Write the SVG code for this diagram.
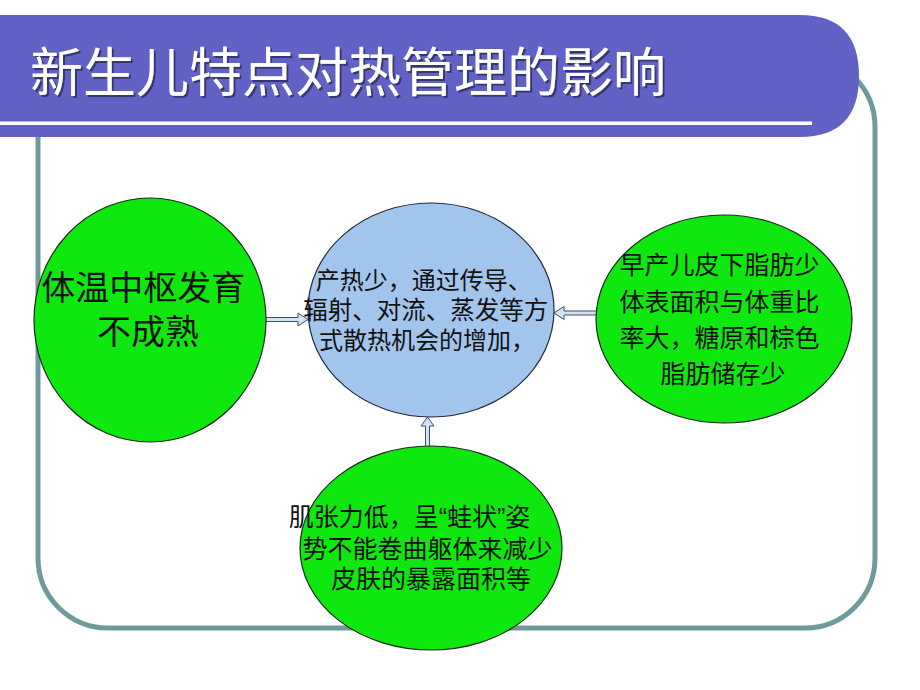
<svg xmlns="http://www.w3.org/2000/svg" width="920" height="690" viewBox="0 0 920 690">
  <defs>
    <filter id="shadow" x="-5%" y="-20%" width="110%" height="140%">
      <feDropShadow dx="2" dy="2" stdDeviation="0.6" flood-color="#2a2a5a" flood-opacity="0.8"/>
    </filter>
    <style>
      .frame { fill: none; stroke: #6e9a9c; stroke-width: 5; }
      .green { fill: #0ee80e; stroke: #1a2a1a; stroke-width: 1.2; }
      .blue { fill: #a2c5ec; stroke: #1e2a3e; stroke-width: 1.2; }
      .txt { font-family: "Liberation Sans", "Noto Sans CJK SC", sans-serif; fill: #111; text-anchor: middle; }
      .title { font-family: "Liberation Sans", "Noto Sans CJK SC", sans-serif; fill: #ffffff; font-size: 53px; }
      .arrow { fill: #d6e1ef; stroke: #3d4f75; stroke-width: 1; stroke-linejoin: miter; }
    </style>
  </defs>
  <rect width="920" height="690" fill="#ffffff"/>

  <!-- frame -->
  <rect class="frame" x="38" y="57" width="837" height="571" rx="70" ry="70"/>

  <!-- title bar -->
  <g id="title-bar">
    <path d="M0,15 H800 Q859,15 859,76 Q859,137 800,137 H0 Z" fill="#6262c6"/>
    <rect x="0" y="121.5" width="812" height="3.5" fill="#ffffff"/>
    <text class="title" x="30" y="92" filter="url(#shadow)">新生儿特点对热管理的影响</text>
  </g>

  <!-- connectors -->
  <g id="connectors">
    <path class="arrow" d="M265,317.5 H298 V313 L308,319.5 L298,326 V321.5 H265 Z"/>
    <path class="arrow" d="M597,311 H564 V306.5 L554,313 L564,319.5 V315 H597 Z"/>
    <path class="arrow" d="M425.5,447 V426 H421 L427.5,417 L434,426 H429.5 V447 Z"/>
  </g>

  <!-- nodes -->
  <g id="node-center">
    <ellipse class="blue" cx="431" cy="310" rx="123" ry="107"/>
    <text class="txt" font-size="24">
      <tspan x="427" y="289">产热少，通过传导、</tspan>
      <tspan x="429" y="319" font-size="24.5">辐射、对流、蒸发等方</tspan>
      <tspan x="427" y="349">式散热机会的增加，</tspan>
    </text>
  </g>

  <g id="node-left">
    <ellipse class="green" cx="150" cy="320" rx="116" ry="122"/>
    <text class="txt" font-size="34">
      <tspan x="148" y="300">体温中枢发育</tspan>
      <tspan x="148" y="344">不成熟</tspan>
    </text>
  </g>

  <g id="node-right">
    <ellipse class="green" cx="724" cy="319" rx="128" ry="104"/>
    <text class="txt" font-size="25">
      <tspan x="723" y="274">早产儿皮下脂肪少</tspan>
      <tspan x="723" y="311">体表面积与体重比</tspan>
      <tspan x="723" y="347">率大，糖原和棕色</tspan>
      <tspan x="723" y="383">脂肪储存少</tspan>
    </text>
  </g>

  <g id="node-bottom">
    <ellipse class="green" cx="431" cy="548" rx="131" ry="102"/>
    <text class="txt" font-size="25">
      <tspan x="413" y="526">肌张力低，呈“蛙状”姿</tspan>
      <tspan x="431" y="558">势不能卷曲躯体来减少</tspan>
      <tspan x="431" y="588">皮肤的暴露面积等</tspan>
    </text>
  </g>
</svg>
